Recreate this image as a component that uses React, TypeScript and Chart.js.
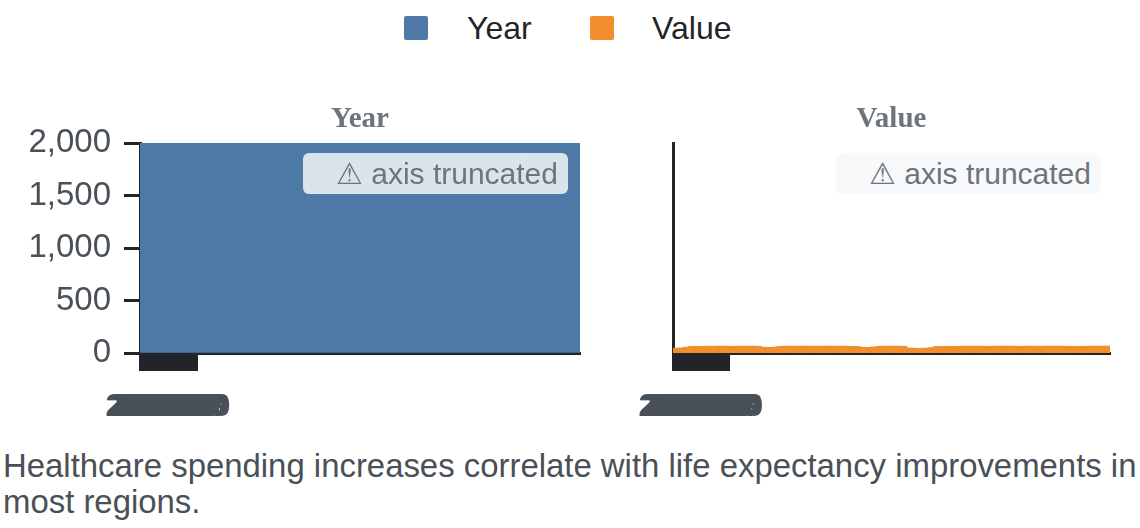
import React, { useEffect, useRef } from "react";
import { Chart, registerables } from "chart.js";

Chart.register(...registerables);

const REGIONS = ["Africa", "Americas", "Asia", "Europe"];

const YEAR_VALUES = [
  2000, 2001, 2002, 2003, 2004, 2005, 2006, 2007, 2008, 2009, 2010, 2011, 2012, 2013, 2014, 2015, 2016, 2017, 2018, 2019, 2020,
  2000, 2001, 2002, 2003, 2004, 2005, 2006, 2007, 2008, 2009, 2010, 2011, 2012, 2013, 2014, 2015, 2016, 2017, 2018, 2019, 2020,
  2000, 2001, 2002, 2003, 2004, 2005, 2006, 2007, 2008, 2009, 2010, 2011, 2012, 2013, 2014, 2015, 2016, 2017, 2018, 2019, 2020,
  2000, 2001, 2002, 2003, 2004, 2005, 2006, 2007, 2008, 2009, 2010, 2011, 2012, 2013, 2014, 2015, 2016, 2017, 2018, 2019, 2020,
];

const VALUE_VALUES = [
  47, 49, 56, 63, 64, 64, 65, 64, 65, 66, 65, 64, 65, 66, 65, 66, 64, 55, 54, 57, 64,
  65, 66, 65, 66, 66, 65, 64, 65, 66, 66, 65, 66, 65, 64, 63, 55, 54, 58, 64, 65, 66,
  66, 65, 64, 48, 46, 45, 47, 52, 62, 63, 64, 65, 64, 65, 66, 65, 66, 65, 64, 65, 66,
  66, 65, 66, 64, 65, 66, 65, 64, 65, 66, 65, 66, 64, 65, 63, 64, 65, 66, 65, 66, 67,
];

const X_TICK_LABELS = [
  2000, 2001, 2002, 2003, 2004, 2005, 2006, 2007, 2008, 2009, 2010,
  2011, 2012, 2013, 2014, 2015, 2016, 2017, 2018, 2019, 2020,
];

const Y_TICKS = [0, 500, 1000, 1500, 2000];

const CATEGORIES = YEAR_VALUES.map((y, i) => `${REGIONS[Math.floor(i / 21)]} ${y}`);

const SANS = "'Liberation Sans', Arial, Helvetica, sans-serif";
const SERIF = "'Liberation Serif', 'Times New Roman', serif";
const DARK = "#212529";

function makeOptions(title: string, showYTicks: boolean, yWidth: number, padRight: number): any {
  return {
    responsive: false,
    animation: false,
    maintainAspectRatio: false,
    layout: { padding: { left: 0, right: padRight, top: 0, bottom: 0 } },
    plugins: {
      legend: { display: false },
      tooltip: { enabled: false },
      title: {
        display: true,
        text: title,
        fullSize: false,
        color: "#6c757d",
        font: { family: SERIF, size: 29, weight: "bold", lineHeight: 1.2 },
        padding: { top: 7, bottom: 6.2 },
      },
    },
    scales: {
      x: {
        type: "category",
        display: false,
        offset: true,
      },
      x2: {
        type: "linear",
        position: "bottom",
        min: 2000,
        max: 2157,
        offset: false,
        afterBuildTicks: (scale: any) => {
          scale.ticks = X_TICK_LABELS.map((v) => ({ value: v }));
        },
        afterFit: (scale: any) => {
          scale.height = 87;
        },
        border: { display: true, color: DARK, width: 3 },
        grid: {
          display: true,
          offset: false,
          drawOnChartArea: false,
          drawTicks: true,
          tickLength: 18,
          tickColor: DARK,
          tickWidth: 3,
        },
        ticks: {
          autoSkip: false,
          maxRotation: 0,
          minRotation: 0,
          padding: 18,
          color: "#495057",
          font: { family: SANS, size: 31, weight: "bold" },
          callback: (v: any) => String(v),
        },
      },
      y: {
        type: "linear",
        min: 0,
        max: 2000,
        afterBuildTicks: (scale: any) => {
          scale.ticks = Y_TICKS.map((v) => ({ value: v }));
        },
        afterFit: (scale: any) => {
          scale.width = yWidth;
        },
        border: { display: true, color: DARK, width: 3 },
        grid: {
          display: showYTicks,
          drawOnChartArea: false,
          drawTicks: true,
          tickLength: 16,
          tickColor: DARK,
          tickWidth: 3,
        },
        ticks: {
          display: showYTicks,
          padding: 13,
          color: "#495057",
          font: { family: SANS, size: 33 },
          callback: (v: any) => Number(v).toLocaleString("en-US"),
        },
      },
    },
  };
}

function Panel(props: {
  left: number;
  width: number;
  title: string;
  data: number[];
  color: string;
  showYTicks: boolean;
  yWidth: number;
  padRight: number;
}) {
  const ref = useRef<HTMLCanvasElement | null>(null);
  useEffect(() => {
    if (!ref.current) return;
    const chart = new Chart(ref.current, {
      type: "bar",
      data: {
        labels: CATEGORIES,
        datasets: [
          {
            label: props.title,
            data: props.data,
            backgroundColor: props.color,
            borderWidth: 0,
            barPercentage: 1,
            categoryPercentage: 1,
            xAxisID: "x",
            yAxisID: "y",
          },
        ],
      },
      options: makeOptions(props.title, props.showYTicks, props.yWidth, props.padRight),
    });
    return () => chart.destroy();
  }, []);
  return (
    <div style={{ position: "absolute", left: props.left, top: 95, width: props.width, height: 345 }}>
      <canvas ref={ref} width={props.width} height={345} style={{ width: props.width, height: 345 }} />
    </div>
  );
}

const badgeStyle = (left: number, bg: string): React.CSSProperties => ({
  position: "absolute",
  left,
  top: 153,
  width: 265,
  height: 41,
  boxSizing: "border-box",
  background: bg,
  borderRadius: 6,
  color: "#6c757d",
  font: `30px ${SANS}`,
  lineHeight: "41px",
  textAlign: "right",
  paddingRight: 10,
  whiteSpace: "nowrap",
});

export default function App() {
  return (
    <div
      style={{
        position: "fixed",
        left: 0,
        top: 0,
        width: 1140,
        height: 528,
        background: "#ffffff",
        overflow: "hidden",
        fontFamily: SANS,
      }}
    >
      {/* legend */}
      <div style={{ position: "absolute", left: 404, top: 16, width: 24, height: 24, background: "#4e79a7", borderRadius: 2 }} />
      <div style={{ position: "absolute", left: 467, top: 10, height: 40, lineHeight: "40px", font: `32px ${SANS}`, color: DARK }}>Year</div>
      <div style={{ position: "absolute", left: 590, top: 16, width: 24, height: 24, background: "#f28e2b", borderRadius: 2 }} />
      <div style={{ position: "absolute", left: 652, top: 10, height: 40, lineHeight: "40px", font: `32px ${SANS}`, color: DARK }}>Value</div>

      <Panel left={0} width={600} title="Year" data={YEAR_VALUES} color="#4e79a7" showYTicks={true} yWidth={140} padRight={20} />
      <Panel left={600} width={540} title="Value" data={VALUE_VALUES} color="#f28e2b" showYTicks={false} yWidth={73} padRight={30} />

      <div style={badgeStyle(303, "rgba(255,255,255,0.8)")}>⚠ axis truncated</div>
      <div style={badgeStyle(836, "#f8f9fa")}>⚠ axis truncated</div>

      <div
        style={{
          position: "absolute",
          left: 3,
          top: 448,
          width: 1137,
          font: `32.9px ${SANS}`,
          lineHeight: "36px",
          color: "#495057",
        }}
      >
        Healthcare spending increases correlate with life expectancy improvements in most regions.
      </div>
    </div>
  );
}
